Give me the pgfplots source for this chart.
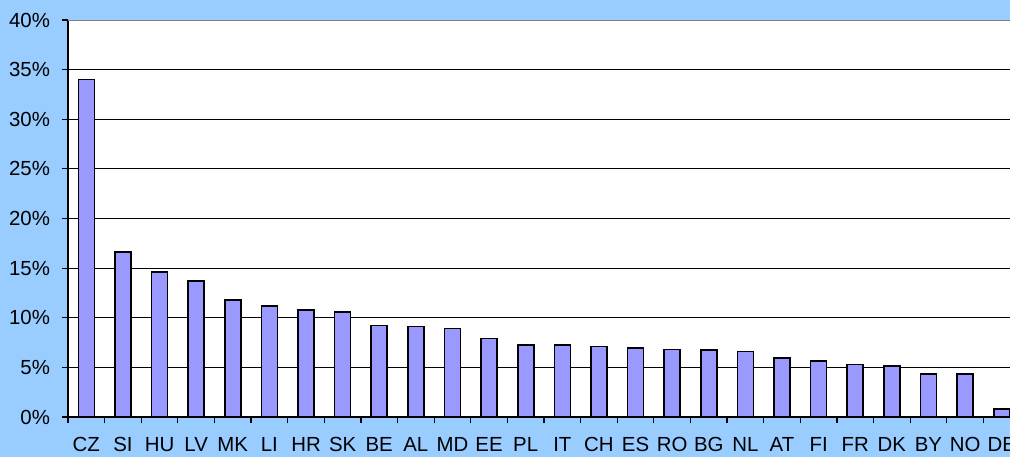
\documentclass[border=0pt]{standalone}
\usepackage{pgfplots}
\pgfplotsset{compat=1.18}
\usepackage{fontspec}
\setmainfont{Liberation Sans}
\definecolor{bgblue}{HTML}{99CCFF}
\definecolor{barfill}{HTML}{9999FF}

\begin{document}
\begin{tikzpicture}
  \useasboundingbox (0,0) rectangle (505pt,228.5pt);
  \clip (0,0) rectangle (505pt,228.5pt);
  \fill[bgblue] (0,0) rectangle (505pt,228.5pt);
  \begin{axis}[
      at={(34pt,20pt)}, anchor=south west,
      scale only axis, width=476pt, height=198.5pt,
      xmin=-0.5, xmax=25.5, ymin=0, ymax=40,
      axis background/.style={fill=white},
      axis x line*=bottom, axis y line*=left,
      axis line style={black, line width=0.6pt},
      ytick={0,5,...,40},
      yticklabels={0\%,5\%,10\%,15\%,20\%,25\%,30\%,35\%,40\%},
      ymajorgrids, grid style={black, line width=0.5pt},
      xtick={0,...,25},
      xticklabels={CZ,SI,HU,LV,MK,LI,HR,SK,BE,AL,MD,EE,PL,IT,CH,ES,RO,BG,NL,AT,FI,FR,DK,BY,NO,DE},
      minor xtick={-0.5,0.5,...,25.5},
      tick align=outside,
      major tick length=3pt, minor tick length=3pt,
      x tick style={draw=none},
      minor x tick style={draw=black, line width=0.6pt},
      y tick style={black, line width=0.6pt},
      yticklabel style={font=\fontsize{10.2}{12}\selectfont, xshift=-2.5pt},
      xticklabel style={font=\fontsize{10.2}{12}\selectfont, yshift=-3.5pt},
      /pgf/number format/assume math mode=true,
    ]
    \addplot[ybar, bar width=8pt, fill=barfill, draw=black, line width=0.8pt]
      coordinates {
        (0,34.0) (1,16.6) (2,14.6) (3,13.7) (4,11.8) (5,11.2) (6,10.8)
        (7,10.6) (8,9.2) (9,9.1) (10,8.9) (11,7.9) (12,7.25) (13,7.25)
        (14,7.1) (15,6.95) (16,6.8) (17,6.75) (18,6.6) (19,5.95) (20,5.65)
        (21,5.3) (22,5.15) (23,4.35) (24,4.35) (25,0.8)
      };
    \draw[gray, line width=1pt] (rel axis cs:0,1) -- (rel axis cs:1,1);
  \end{axis}
\end{tikzpicture}
\end{document}
